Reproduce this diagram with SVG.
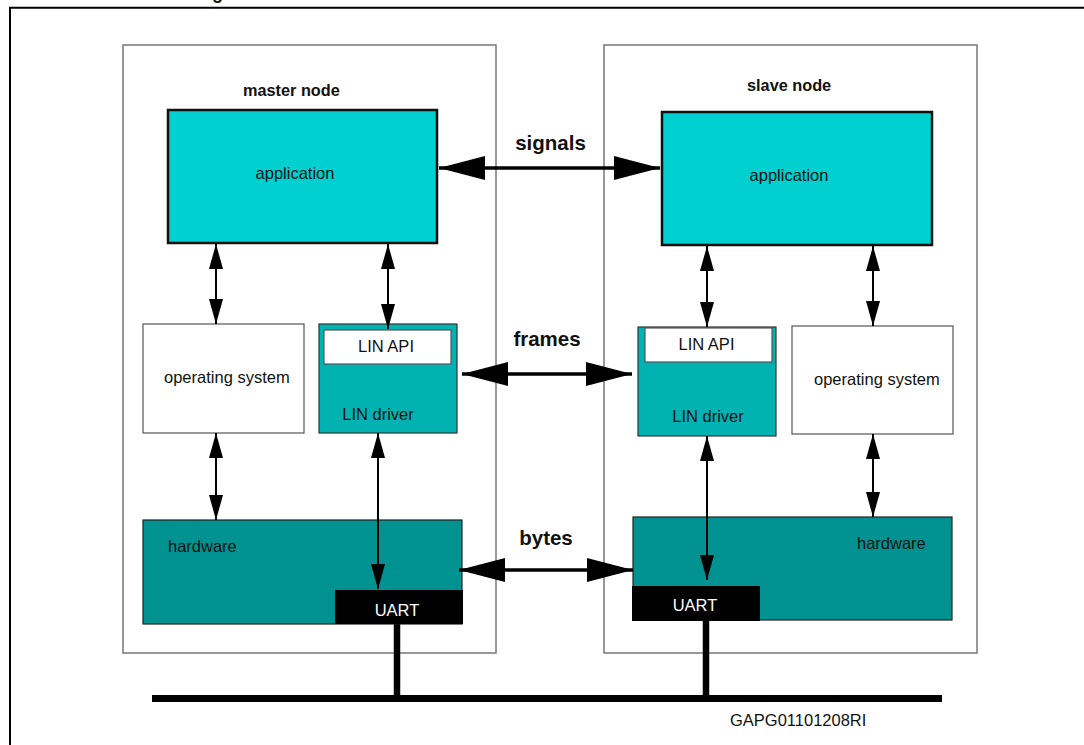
<svg xmlns="http://www.w3.org/2000/svg" width="1084" height="745" viewBox="0 0 1084 745">
<defs>
<style>
.t{font-family:"Liberation Sans",Arial,sans-serif;font-size:16.5px;fill:#111}
.b{font-family:"Liberation Sans",Arial,sans-serif;font-weight:bold;fill:#111}
.frame{fill:#fff;stroke:#777;stroke-width:1.5}
.app{fill:#00D0D0;stroke:#111;stroke-width:2.5}
.os{fill:#fff;stroke:#555;stroke-width:1.2}
.drv{fill:#00B2B2;stroke:#333;stroke-width:1.2}
.api{fill:#fff;stroke:#555;stroke-width:1.2}
.hw{fill:#009191;stroke:#222;stroke-width:1.2}
.uart{fill:#000}
.big{stroke:#000;stroke-width:3.5;fill:none;marker-start:url(#bh);marker-end:url(#bh)}
.sm{stroke:#000;stroke-width:2;fill:none;marker-start:url(#sh);marker-end:url(#sh)}
.bus{stroke:#000;fill:none}
</style>
<marker id="bh" markerUnits="userSpaceOnUse" markerWidth="46" markerHeight="24" refX="46" refY="12" orient="auto-start-reverse" viewBox="0 0 46 24">
<path d="M0,0 L46,12 L0,24 z" fill="#000"/>
</marker>
<marker id="sh" markerUnits="userSpaceOnUse" markerWidth="25" markerHeight="14" refX="25" refY="7" orient="auto-start-reverse" viewBox="0 0 25 14">
<path d="M0,0 L25,7 L0,14 z" fill="#000"/>
</marker>
</defs>
<rect width="1084" height="745" fill="#fff"/>
<text class="b" x="212" y="-1" font-size="18">g</text>
<path d="M10,745 V7.7 H1084" stroke="#000" stroke-width="2" fill="none"/>

<g id="master-node">
<rect class="frame" x="123" y="45" width="373" height="608"/>
<text class="b" x="243" y="96" font-size="16.3">master node</text>
</g>
<g id="slave-node">
<rect class="frame" x="604" y="45" width="373" height="608"/>
<text class="b" x="747" y="91" font-size="16.3">slave node</text>
</g>

<g id="bus">
<line class="bus" x1="152" y1="698.5" x2="942" y2="698.5" stroke-width="7"/>
<line class="bus" x1="397" y1="624" x2="397" y2="698" stroke-width="6.5"/>
<line class="bus" x1="706" y1="621" x2="706" y2="698" stroke-width="6.5"/>
</g>

<g id="master-application">
<rect class="app" x="168" y="110" width="269" height="133"/>
<text class="t" x="295" y="179" text-anchor="middle">application</text>
</g>
<g id="master-os">
<rect class="os" x="143" y="324" width="161" height="109"/>
<text class="t" x="164" y="383">operating system</text>
</g>
<g id="master-lin-driver">
<rect class="drv" x="319" y="324" width="138" height="109"/>
<rect class="api" x="324" y="330" width="127" height="34"/>
<text class="t" x="386" y="352" text-anchor="middle">LIN API</text>
<text class="t" x="378" y="420" text-anchor="middle">LIN driver</text>
</g>
<g id="master-hardware">
<rect class="hw" x="143" y="520" width="319" height="104"/>
<text class="t" x="168" y="552">hardware</text>
</g>
<g id="master-uart">
<rect class="uart" x="335" y="590" width="128" height="34"/>
<text class="t" x="397" y="616" text-anchor="middle" style="fill:#fff">UART</text>
</g>

<g id="slave-application">
<rect class="app" x="662" y="112" width="270" height="133"/>
<text class="t" x="789" y="181" text-anchor="middle">application</text>
</g>
<g id="slave-lin-driver">
<rect class="drv" x="638" y="327" width="138" height="109"/>
<rect class="api" x="645" y="328" width="127" height="34"/>
<text class="t" x="706.5" y="350" text-anchor="middle">LIN API</text>
<text class="t" x="708" y="422" text-anchor="middle">LIN driver</text>
</g>
<g id="slave-os">
<rect class="os" x="792" y="326" width="161" height="108"/>
<text class="t" x="814" y="385">operating system</text>
</g>
<g id="slave-hardware">
<rect class="hw" x="633" y="517" width="319" height="103"/>
<text class="t" x="857" y="549">hardware</text>
</g>
<g id="slave-uart">
<rect class="uart" x="632" y="586" width="128" height="35"/>
<text class="t" x="695" y="611" text-anchor="middle" style="fill:#fff">UART</text>
</g>

<g id="connectors">
<line class="big" x1="439" y1="168" x2="660" y2="168"/>
<line class="big" x1="462" y1="374" x2="632" y2="374"/>
<line class="big" x1="459" y1="570" x2="633" y2="570"/>
<line class="sm" x1="216" y1="244" x2="216" y2="324"/>
<line class="sm" x1="388" y1="244" x2="388" y2="329"/>
<line class="sm" x1="216" y1="433" x2="216" y2="520"/>
<line class="sm" x1="378" y1="433" x2="378" y2="589"/>
<line class="sm" x1="707" y1="246" x2="707" y2="327"/>
<line class="sm" x1="873" y1="246" x2="873" y2="326"/>
<line class="sm" x1="873" y1="434" x2="873" y2="517"/>
<line class="sm" x1="707" y1="436" x2="707" y2="580"/>
</g>

<g id="labels">
<text class="b" x="550.5" y="150" font-size="20.5" text-anchor="middle">signals</text>
<text class="b" x="547" y="346" font-size="20.5" text-anchor="middle">frames</text>
<text class="b" x="546" y="545" font-size="20.5" text-anchor="middle">bytes</text>
<text class="t" x="730" y="726">GAPG01101208RI</text>
</g>
</svg>
